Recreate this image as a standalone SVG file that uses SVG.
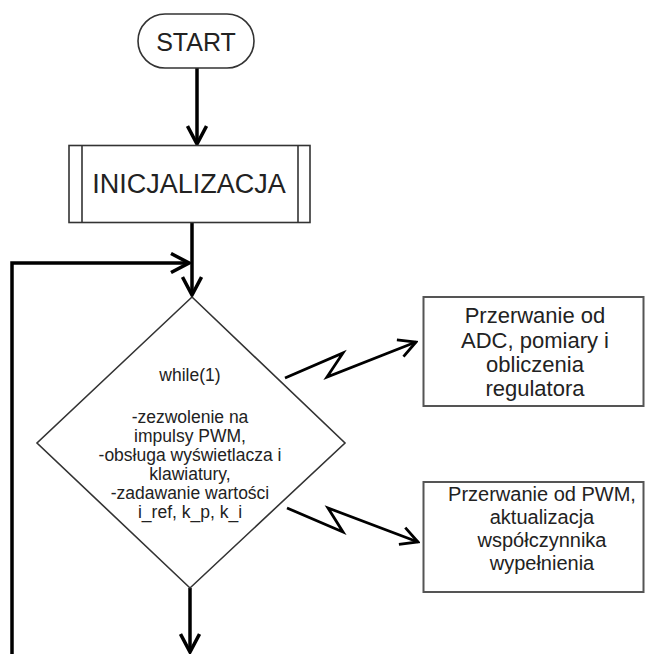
<svg xmlns="http://www.w3.org/2000/svg" width="645" height="654" viewBox="0 0 645 654">
<style>
.shape{fill:#fff;stroke:#333;stroke-width:1.6}
.box{fill:#fff;stroke:#555;stroke-width:2}
.conn{fill:none;stroke:#000;stroke-width:3.5}
.zig{fill:none;stroke:#000;stroke-width:2.8;stroke-linejoin:miter}
text{font-family:"Liberation Sans",Arial,sans-serif;fill:#222;text-anchor:middle}
.big{font-size:25px}
.mid{font-size:17.5px}
.rt{font-size:22px}
.rt2{font-size:20px}
</style>
<defs>
<marker id="ah" viewBox="0 0 22 22" refX="20" refY="11" markerWidth="22" markerHeight="22" markerUnits="userSpaceOnUse" orient="auto">
<path d="M2,1.5 L20,11 L2,20.5" fill="none" stroke="#000" stroke-width="3.5"/>
</marker>
<marker id="ah2" viewBox="0 0 22 22" refX="20" refY="11" markerWidth="22" markerHeight="22" markerUnits="userSpaceOnUse" orient="auto">
<path d="M3,2 L20,11 L3,20" fill="none" stroke="#000" stroke-width="2.8"/>
</marker>
</defs>
<rect width="645" height="654" fill="#fff"/>
<g id="connectors">
<line class="conn" x1="197" y1="68" x2="197" y2="144" marker-end="url(#ah)"/>
<line class="conn" x1="192" y1="222" x2="192" y2="295" marker-end="url(#ah)"/>
<polyline class="conn" points="12,654 12,263 189,263" marker-end="url(#ah)"/>
<line class="conn" x1="190" y1="588" x2="190" y2="652" marker-end="url(#ah)"/>
<polyline class="zig" points="285,378 343,353 327,377 416,342" marker-end="url(#ah2)"/>
<polyline class="zig" points="287,508 343,532 328,508 418,542" marker-end="url(#ah2)"/>
</g>
<g id="start">
<rect class="shape" x="138" y="14" width="116" height="54" rx="27" ry="27"/>
<text class="big" x="196" y="51">START</text>
</g>
<g id="init">
<rect class="shape" x="69" y="145.5" width="241" height="77"/>
<line class="shape" x1="82" y1="145.5" x2="82" y2="222.5"/>
<line class="shape" x1="298" y1="145.5" x2="298" y2="222.5"/>
<text class="big" x="189" y="193" style="font-size:27px">INICJALIZACJA</text>
</g>
<g id="while">
<polygon class="shape" points="192,297 345,443 190,588 37,443"/>
<text class="mid" x="190" y="381">while(1)</text>
<text class="mid" x="190" y="423">-zezwolenie na</text>
<text class="mid" x="190" y="442">impulsy PWM,</text>
<text class="mid" x="190" y="461">-obsługa wyświetlacza i</text>
<text class="mid" x="190" y="480">klawiatury,</text>
<text class="mid" x="190" y="499">-zadawanie wartości</text>
<text class="mid" x="190" y="518">i_ref, k_p, k_i</text>
</g>
<g id="adc">
<rect class="box" x="423.5" y="297" width="220" height="109"/>
<text class="rt" x="535" y="323">Przerwanie od</text>
<text class="rt" x="535" y="348">ADC, pomiary i</text>
<text class="rt" x="535" y="372">obliczenia</text>
<text class="rt" x="535" y="396">regulatora</text>
</g>
<g id="pwm">
<rect class="box" x="423.5" y="482" width="220" height="110"/>
<text class="rt2" x="542" y="501">Przerwanie od PWM,</text>
<text class="rt2" x="542" y="524">aktualizacja</text>
<text class="rt2" x="542" y="547">współczynnika</text>
<text class="rt2" x="542" y="570">wypełnienia</text>
</g>
</svg>
